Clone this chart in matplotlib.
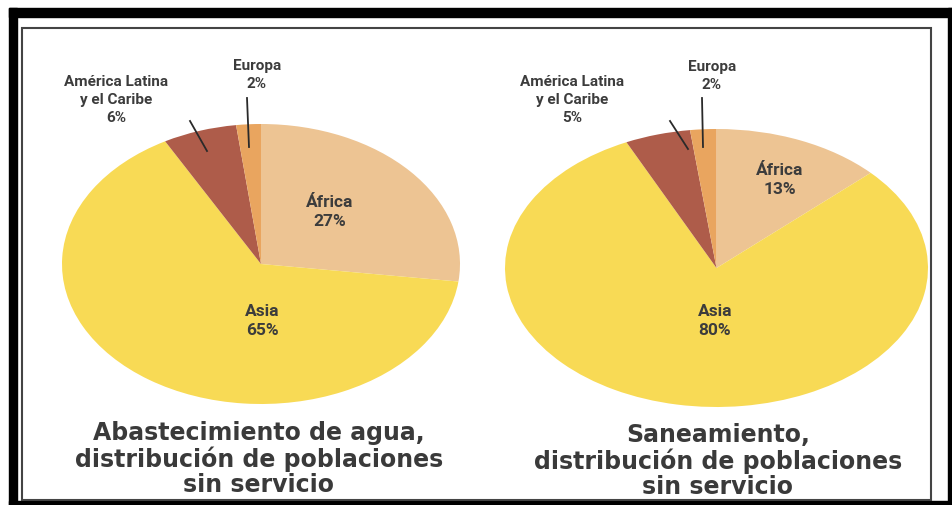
import matplotlib
matplotlib.use("Agg")
import matplotlib.pyplot as plt
from matplotlib.patches import Rectangle

# ---- data ----
regions = ["África", "Asia", "América Latina\ny el Caribe", "Europa"]
agua = [27, 65, 6, 2]
saneamiento = [13, 80, 5, 2]
colors = ["#EDC493", "#F8DA55", "#AE5C4A", "#E9A55F"]
captions = ["Abastecimiento de agua,\ndistribución de poblaciones\nsin servicio",
            "Saneamiento,\ndistribución de poblaciones\nsin servicio"]

W, H = 953, 506
fig = plt.figure(figsize=(W / 100, H / 100), dpi=100)
fig.patch.set_facecolor("white")


def make_pie(vals, box):
    x0, y0, x1, y1 = box
    ax = fig.add_axes([x0 / W, 1 - y1 / H, (x1 - x0) / W, (y1 - y0) / H])
    ax.pie(vals, colors=colors, startangle=90, counterclock=False,
           wedgeprops=dict(linewidth=0))
    ax.set_aspect("auto")
    ax.set_xlim(-1, 1)
    ax.set_ylim(-1, 1)
    ax.axis("off")


make_pie(agua, (62, 125, 460, 405))
make_pie(saneamiento, (505, 130, 928, 408))

# overlay axes in pixel coordinates (on top of pies)
ov = fig.add_axes([0, 0, 1, 1])
ov.set_xlim(0, W)
ov.set_ylim(H, 0)
ov.axis("off")
ov.patch.set_alpha(0)

# frame
for (x, y, w, h) in [(9, 9, W - 9, 9), (9, 9, 8, H - 9), (948, 9, 5, H - 9), (9, 502, W - 9, 4)]:
    ov.add_patch(Rectangle((x, y), w, h, color="black", zorder=1))
ov.add_patch(Rectangle((22, 29), 909, 472, fill=False, edgecolor="#444444", lw=1.5, zorder=1))

TXT = "#3c3c3c"
lab_font = dict(family=["Roboto", "DejaVu Sans"], fontweight="bold", color=TXT,
                ha="center", va="center", linespacing=1.35)


def annotate(vals, inside, latam_pos, europa_pos, latam_line, europa_line, cap_pos, caption):
    for idx, (px, py) in inside.items():
        ov.text(px, py, f"{regions[idx]}\n{vals[idx]}%", zorder=5, fontsize=12.5, **lab_font)
    ov.text(latam_pos[0], latam_pos[1], f"{regions[2]}\n{vals[2]}%", zorder=5, fontsize=11, **lab_font)
    ov.text(europa_pos[0], europa_pos[1], f"{regions[3]}\n{vals[3]}%", zorder=5, fontsize=11, **lab_font)
    ov.plot(*zip(*latam_line), color="#2a2a2a", lw=1.3, zorder=6)
    ov.plot(*zip(*europa_line), color="#2a2a2a", lw=1.3, zorder=6)
    ov.text(cap_pos[0], cap_pos[1], caption, ha="center", va="center", color="#3a3a3a",
            fontsize=17, fontweight="bold", family=["DejaVu Sans"], linespacing=1.05, zorder=5)


annotate(agua, {0: (330, 212), 1: (262, 321)},
         (116, 100), (257, 75), [(190, 122), (207, 152)], [(247, 99), (249, 148)],
         (259, 459), captions[0])
annotate(saneamiento, {0: (780, 180), 1: (715, 321)},
         (572, 100), (712, 76), [(670, 122), (688, 150)], [(702, 99), (703, 148)],
         (718, 461), captions[1])

fig.savefig("out.png", dpi=100)
